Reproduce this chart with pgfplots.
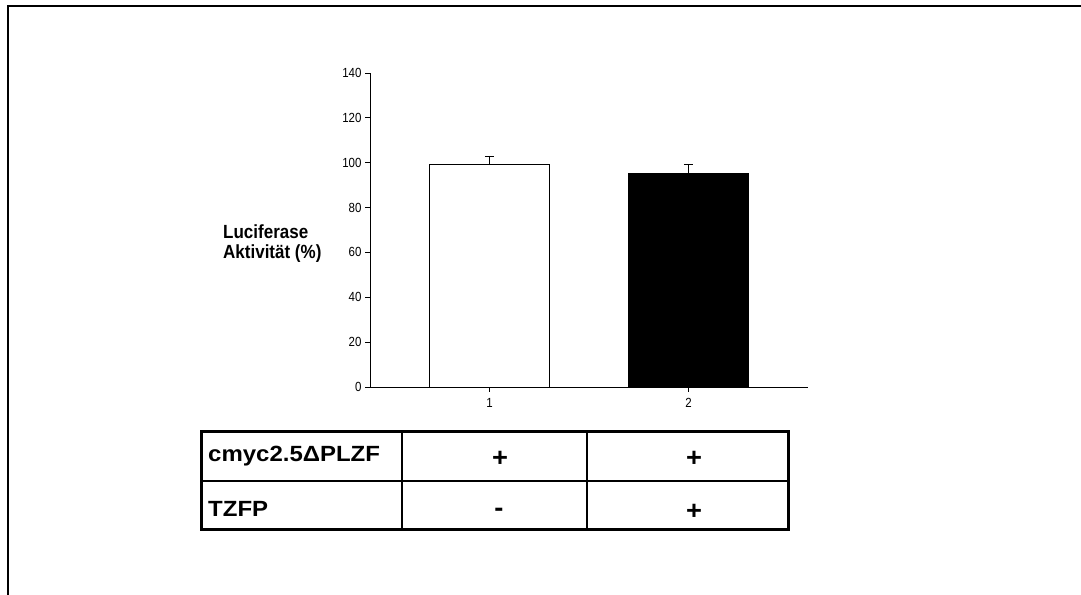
\documentclass[border=0pt]{standalone}
\usepackage{fontspec}
\setmainfont{Liberation Sans}
\usepackage{pgfplots}
\pgfplotsset{compat=1.18}
\usepackage{graphicx}
\newcommand{\tabtxt}[1]{\scalebox{1.09}[1]{\fontsize{22bp}{26bp}\selectfont\bfseries #1}}
\newcommand{\sgn}[1]{\scalebox{1.05}[1]{\fontsize{26bp}{30bp}\selectfont\bfseries #1}}
\newcommand{\ylab}[1]{\scalebox{1}[1.12]{\fontsize{17bp}{20bp}\selectfont\bfseries #1}}
\begin{document}
\begin{tikzpicture}
\useasboundingbox (0,0) rectangle (1081bp,595bp);
% frame
\draw[line width=2bp] (8bp,0) -- (8bp,589bp) -- (1081bp,589bp);
\begin{axis}[
  at={(370bp,208bp)}, anchor=south west,
  scale only axis, width=438bp, height=314bp,
  xmin=0.4, xmax=2.6, ymin=0, ymax=140,
  axis x line=bottom, axis y line=left,
  axis line style={-, line width=0.9bp},
  xtick={1,2}, ytick={0,20,...,140},
  tick align=outside, major tick length=5bp,
  tick style={black, line width=0.8bp},
  /pgf/number format/assume math mode=true,
  tick label style={font=\fontsize{11.5bp}{13bp}\selectfont},
  xticklabel={\scalebox{1}[1.15]{\pgfmathprintnumber{\tick}}},
  yticklabel={\scalebox{1}[1.15]{\pgfmathprintnumber{\tick}}},
  xticklabel style={yshift=-3bp},
  clip=false,
]
\addplot[ybar, bar width=120bp, bar shift=0pt, fill=white, draw=black, line width=0.9bp,
  error bars/.cd, y dir=plus, y explicit,
  error bar style={black, line width=0.9bp},
  error mark options={rotate=90, mark size=4.7bp, line width=0.9bp}]
  coordinates {(1,99.3) +- (0,3.7)};
\addplot[ybar, bar width=120bp, bar shift=0pt, fill=black, draw=black, line width=0.9bp,
  error bars/.cd, y dir=plus, y explicit,
  error bar style={black, line width=0.9bp},
  error mark options={rotate=90, mark size=4.7bp, line width=0.9bp}]
  coordinates {(2,95.1) +- (0,4.2)};
\end{axis}
% y label
\node[anchor=base west, inner sep=0pt] at (223bp,356bp) {\ylab{Luciferase}};
\node[anchor=base west, inner sep=0pt] at (223bp,336bp) {\ylab{Aktivität (\%)}};
% table
\draw[line width=1.6bp] (201bp,114bp) -- (788bp,114bp);
\draw[line width=1.6bp] (402bp,163bp) -- (402bp,65bp);
\draw[line width=1.6bp] (587bp,163bp) -- (587bp,65bp);
\draw[line width=3bp] (201bp,163bp) rectangle (788bp,65bp);
\node[anchor=base west, inner sep=0pt] at (208bp,133bp) {\tabtxt{cmyc2.5ΔPLZF}};
\node[anchor=base west, inner sep=0pt] at (208bp,78bp) {\tabtxt{TZFP}};
\node[anchor=base, inner sep=0pt] at (500bp,128bp) {\sgn{+}};
\node[anchor=base, inner sep=0pt] at (694bp,128bp) {\sgn{+}};
\node[anchor=base, inner sep=0pt] at (499bp,78bp) {\sgn{-}};
\node[anchor=base, inner sep=0pt] at (694bp,75bp) {\sgn{+}};
\end{tikzpicture}
\end{document}
